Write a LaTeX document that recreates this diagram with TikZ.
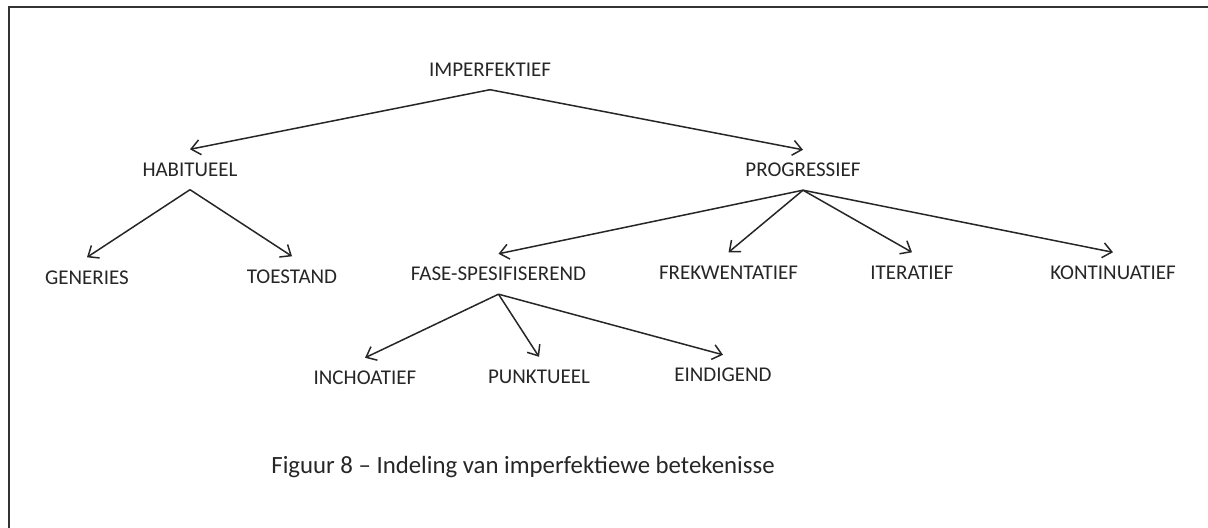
\documentclass[tikz,border=0pt]{standalone}
\usepackage{fontspec}
\setmainfont{Carlito}
\usetikzlibrary{arrows.meta}

\begin{document}
\begin{tikzpicture}[x=0.5pt,y=-0.5pt,
    every node/.style={font=\fontsize{10.5}{12}\selectfont,text=black!85,inner xsep=0pt,inner ysep=6.5pt,text height=6.8pt,text depth=0pt},
    arw/.style={line width=0.75pt,draw=black!85,-{Straight Barb[length=4.5pt,width=7.5pt]}}]
  \useasboundingbox (0,0) rectangle (1208,528);
  \draw[line width=1pt,black!80] (8.5,560) -- (8.5,7.5) -- (1240,7.5);
  \node (Imperfektief) at (490,69.5) {IMPERFEKTIEF};
  \node (Habitueel) at (190,169.5) {HABITUEEL};
  \node (Progressief) at (803,170) {PROGRESSIEF};
  \node (Generies) at (87,277.5) {GENERIES};
  \node (Toestand) at (292,276.5) {TOESTAND};
  \node (Fase) at (498.5,274) {FASE-SPESIFISEREND};
  \node (Frekwentatief) at (728.5,272.5) {FREKWENTATIEF};
  \node (Iteratief) at (912,272.5) {ITERATIEF};
  \node (Kontinuatief) at (1113,272.5) {KONTINUATIEF};
  \node (Inchoatief) at (365,378) {INCHOATIEF};
  \node (Punktueel) at (539,377) {PUNKTUEEL};
  \node (Eindigend) at (723,375) {EINDIGEND};
  \node[font=\fontsize{12.4}{14}\selectfont] (Caption) at (523,467) {Figuur 8 – Indeling van imperfektiewe betekenisse};
  \draw[arw] (Imperfektief.south) -- (Habitueel.north);
  \draw[arw] (Imperfektief.south) -- (Progressief.north);
  \draw[arw] (Habitueel.south) -- (Generies.north);
  \draw[arw] (Habitueel.south) -- (Toestand.north);
  \draw[arw] (Progressief.south) -- (Fase.north);
  \draw[arw] (Progressief.south) -- (Frekwentatief.north);
  \draw[arw] (Progressief.south) -- (Iteratief.north);
  \draw[arw] (Progressief.south) -- (Kontinuatief.north);
  \draw[arw] (Fase.south) -- (Inchoatief.north);
  \draw[arw] (Fase.south) -- (Punktueel.north);
  \draw[arw] (Fase.south) -- (Eindigend.north);
\end{tikzpicture}
\end{document}
